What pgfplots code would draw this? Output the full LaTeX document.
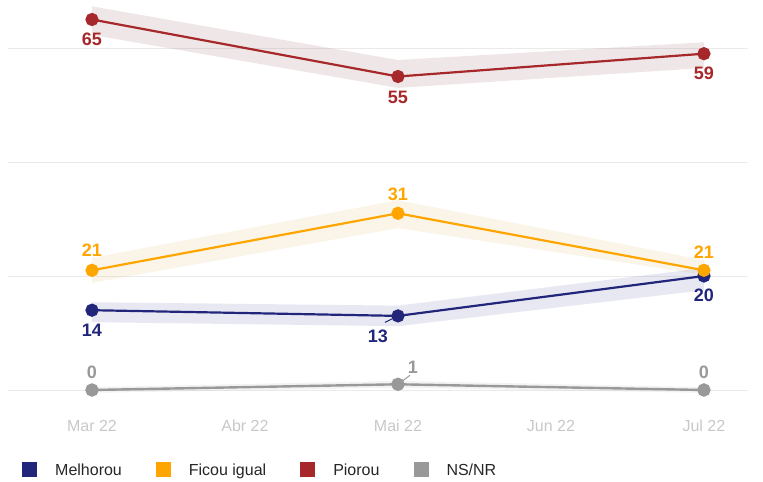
\documentclass[border=0pt]{standalone}
\usepackage{pgfplots}
\pgfplotsset{compat=1.18}
\usepackage{fontspec}
\setmainfont{Liberation Sans}
\definecolor{melh}{RGB}{33,38,122}
\definecolor{ficou}{RGB}{255,165,0}
\definecolor{pior}{RGB}{166,40,42}
\definecolor{nsnr}{RGB}{153,153,153}
\definecolor{melhb}{RGB}{100,100,175}
\definecolor{ficoub}{RGB}{220,190,100}
\definecolor{piorb}{RGB}{150,90,100}
\definecolor{tickc}{RGB}{200,200,200}
\definecolor{gridc}{RGB}{234,234,234}
\newcommand{\lblfont}{\fontsize{18bp}{20bp}\selectfont\bfseries}
\begin{document}
\begin{tikzpicture}
\useasboundingbox (0,0) rectangle (763bp,482bp);
\begin{axis}[
  at={(8bp,92bp)}, anchor=south west,
  scale only axis, width=740bp, height=342bp,
  xmin=-0.549, xmax=4.288, ymin=0, ymax=60,
  clip=false,
  axis line style={draw=none},
  major tick length=0pt,
  xtick={0,1,2,3,4},
  xticklabels={Mar 22,Abr 22,Mai 22,Jun 22,Jul 22},
  xticklabel style={anchor=base, yshift=-41bp, text=tickc, font=\fontsize{16bp}{18bp}\selectfont},
  ytick={0,20,40,60}, yticklabels={},
  ymajorgrids, grid style={color=gridc, line width=1bp},
  legend columns=4,
  legend style={at={(axis description cs:0.0189,-0.2339)}, anchor=west, draw=none, fill=none,
    inner sep=0pt, font=\fontsize{16bp}{18bp}\selectfont, text=black!85,
    nodes={inner sep=0pt},
    /tikz/every odd column/.append style={column sep=18bp},
    /tikz/every even column/.append style={column sep=34bp}},
  legend image code/.code={\fill[#1, draw=none] (0bp,-7.5bp) rectangle (15bp,7.5bp);},
]
% bands
\addplot[draw=none, fill=piorb, fill opacity=0.15, forget plot] coordinates {(0,67.3)(2,57.9)(4,61.0)(4,56.5)(2,53.0)(0,62.3)} -- cycle;
\addplot[draw=none, fill=ficoub, fill opacity=0.15, forget plot] coordinates {(0,23.2)(2,33.3)(4,22.8)(4,20.2)(2,28.4)(0,18.8)} -- cycle;
\addplot[draw=none, fill=melhb, fill opacity=0.15, forget plot] coordinates {(0,15.4)(2,14.8)(4,21.4)(4,17.5)(2,11.2)(0,11.9)} -- cycle;
\addplot[draw=none, fill=nsnr, fill opacity=0.12, forget plot] coordinates {(0,0.5)(2,1.6)(4,0.5)(4,-0.5)(2,0.4)(0,-0.5)} -- cycle;
% lines
\addplot[color=melh, line width=2.2bp, mark=*, mark size=5.5bp, forget plot] coordinates {(0,14)(2,13)(4,20)};
\addplot[color=ficou, line width=2.2bp, mark=*, mark size=5.5bp, forget plot] coordinates {(0,21)(2,31)(4,21)};
\addplot[color=pior, line width=2.2bp, mark=*, mark size=5.5bp, forget plot] coordinates {(0,65)(2,55)(4,59)};
\addplot[color=nsnr, line width=2.4bp, mark=*, mark size=5.5bp, forget plot] coordinates {(0,0)(2,1)(4,0)};
% legend
\addlegendimage{fill=melh, draw=none}\addlegendentry{Melhorou}
\addlegendimage{fill=ficou, draw=none}\addlegendentry{Ficou igual}
\addlegendimage{fill=pior, draw=none}\addlegendentry{Piorou}
\addlegendimage{fill=nsnr, draw=none}\addlegendentry{NS/NR}
% labels
\begin{scope}[every node/.style={font=\lblfont, inner sep=0pt, anchor=center}]
\node[text=pior, yshift=-20bp] at (axis cs:0,65) {65};
\node[text=pior, yshift=-20.5bp] at (axis cs:2,55) {55};
\node[text=pior, yshift=-19.5bp] at (axis cs:4,59) {59};
\node[text=ficou, yshift=20bp] at (axis cs:0,21) {21};
\node[text=ficou, yshift=18.5bp] at (axis cs:2,31) {31};
\node[text=ficou, yshift=18bp] at (axis cs:4,21) {21};
\node[text=melh, yshift=-20bp] at (axis cs:0,14) {14};
\node[text=melh, xshift=-20bp, yshift=-20.5bp] at (axis cs:2,13) {13};
\node[text=melh, yshift=-19.5bp] at (axis cs:4,20) {20};
\node[text=nsnr, yshift=18bp] at (axis cs:0,0) {0};
\node[text=nsnr, xshift=15bp, yshift=17bp] at (axis cs:2,1) {1};
\node[text=nsnr, yshift=18bp] at (axis cs:4,0) {0};
\end{scope}
\draw[melh, line width=1bp] ([shift={(-5bp,-2.5bp)}]axis cs:2,13) -- ([shift={(-13bp,-6.5bp)}]axis cs:2,13);
\draw[nsnr, line width=1bp] ([shift={(4bp,3bp)}]axis cs:2,1) -- ([shift={(12bp,9bp)}]axis cs:2,1);
\end{axis}
\end{tikzpicture}
\end{document}
